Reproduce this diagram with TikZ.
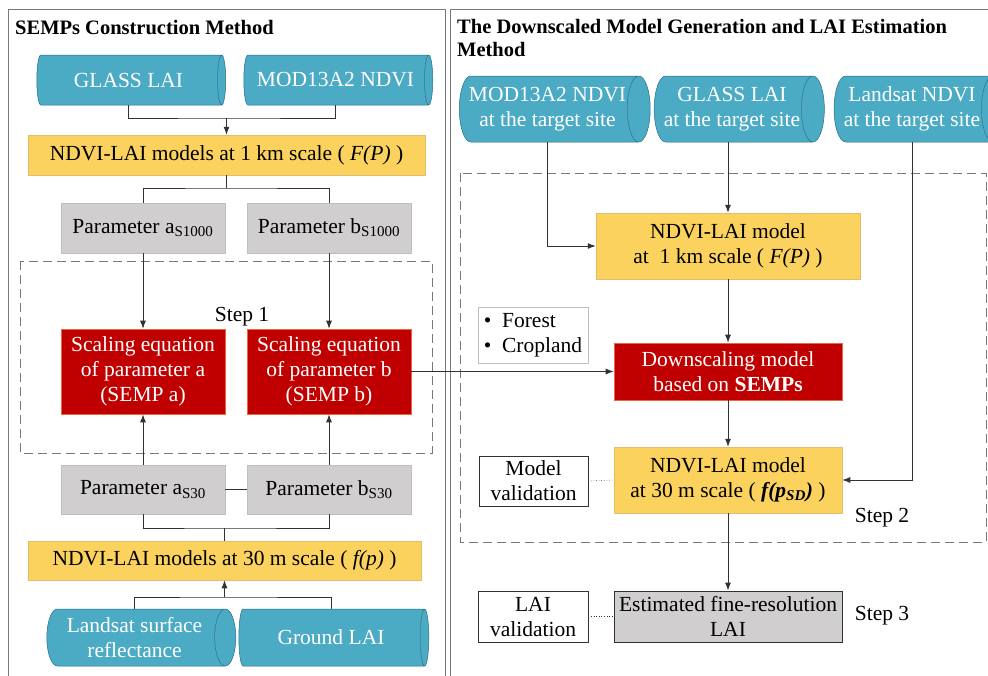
\documentclass[tikz,border=0pt]{standalone}
\usepackage{fontspec}
\setmainfont{Liberation Serif}
\usetikzlibrary{shapes.geometric,arrows.meta,calc}
\definecolor{tealf}{RGB}{75,170,196}
\definecolor{teald}{RGB}{40,110,135}
\definecolor{yelf}{RGB}{252,210,95}
\definecolor{yeld}{RGB}{225,190,110}
\definecolor{redf}{RGB}{192,0,0}
\definecolor{redd}{RGB}{235,100,70}
\definecolor{greyf}{RGB}{208,206,206}
\definecolor{greyd}{RGB}{190,190,190}
\definecolor{lnc}{RGB}{50,50,50}
\definecolor{panel}{RGB}{120,120,120}
\begin{document}
\begin{tikzpicture}[x=1pt,y=-1pt,
  font=\fontsize{21.5}{25}\selectfont,
  every node/.style={inner sep=1pt, align=center},
  cyl/.style={cylinder, shape aspect=0.5, cylinder uses custom fill,
    cylinder body fill=tealf, cylinder end fill=tealf, draw=teald, line width=0.5pt,
    text=white},
  yelbox/.style={rectangle, fill=yelf, draw=yeld, line width=0.5pt, minimum width=#1},
  greybox/.style={rectangle, fill=greyf, draw=greyd, line width=0.5pt, minimum width=#1},
  redbox/.style={rectangle, fill=redf, draw=redd, line width=0.6pt, text=white, minimum width=#1},
  whitebox/.style={rectangle, fill=white, draw=lnc, line width=0.8pt, minimum width=#1},
  ln/.style={draw=lnc, line width=0.9pt},
  arr/.style={ln, -{Latex[length=8pt,width=6pt]}},
  dashbox/.style={draw=panel, line width=0.9pt, dash pattern=on 9pt off 5pt},
  titlef/.style={font=\fontsize{20.5}{23}\selectfont\bfseries}
]
\useasboundingbox (0,0) rectangle (988,675);
% panels
\draw[draw=panel, line width=0.9pt] (8,680) -- (8,9) -- (445,9) -- (445,680);
\draw[draw=panel, line width=0.9pt] (450,680) -- (450,9) -- (1000,9);
% titles
\node[titlef, anchor=base west, inner sep=0pt] (t1) at (15,34) {SEMPs Construction Method};
\node[titlef, anchor=north west, inner sep=0pt, align=left] (t2) at (457,19) {The Downscaled Model Generation and LAI Estimation\\Method};

% ---------- left panel ----------
\node[cyl, minimum width=50pt, minimum height=189pt] (cGL) at (128.5,80) {GLASS LAI};
\node[cyl, minimum width=50pt, minimum height=189pt] (cMD) at (335.5,80) {MOD13A2 NDVI};
\node[yelbox=397pt, minimum height=40pt] (y1) at (226.5,155) {NDVI-LAI models at 1 km scale ( \textit{F(P)} )};
\node[greybox=164pt, minimum height=50pt] (pa1) at (143,228) {Parameter a\textsubscript{S1000}};
\node[greybox=164pt, minimum height=50pt] (pb1) at (329,228) {Parameter b\textsubscript{S1000}};
\draw[dashbox] (20,261) rectangle (432,453);
\node (s1) at (242,317) {Step 1};
\node[redbox=164pt, minimum height=85pt] (ra) at (143,371.5) {Scaling equation\\of parameter a\\(SEMP a)};
\node[redbox=164pt, minimum height=85pt] (rb) at (329,371.5) {Scaling equation\\of parameter b\\(SEMP b)};
\node[greybox=164pt, minimum height=49pt] (pa3) at (143,489.5) {Parameter a\textsubscript{S30}};
\node[greybox=164pt, minimum height=49pt] (pb3) at (329,489.5) {Parameter b\textsubscript{S30}};
\node[yelbox=393pt, minimum height=39pt] (y2) at (224.5,560.5) {NDVI-LAI models at 30 m scale ( \textit{f(p)} )};
\node[cyl, minimum width=57pt, minimum height=189pt] (cLS) at (134.5,637.5) {Landsat surface\\reflectance};
\node[cyl, minimum width=57pt, minimum height=190pt] (cGR) at (331,637.5) {Ground LAI};

\coordinate (j1) at (226.5,118);
\coordinate (j2) at (226.5,188);
\coordinate (j3) at (224.5,528);
\coordinate (j4) at (224.5,597);
\draw[ln] (cGL.south) |- (j1) -| (cMD.south);
\draw[arr] (j1) -- (y1.north);
\draw[ln] (y1.south) -- (j2);
\draw[ln] (pa1.north) |- (j2) -| (pb1.north);
\draw[arr] (pa1.south) -- (ra.north);
\draw[arr] (pb1.south) -- (rb.north);
\draw[arr] (pa3.north) -- (ra.south);
\draw[arr] (pb3.north) -- (rb.south);
\draw[ln] (pa3.east) -- (pb3.west);
\draw[ln] (pa3.south) |- (j3) -| (pb3.south);
\draw[ln] (j3) -- (y2.north);
\draw[ln] (cLS.north) |- (j4) -| (cGR.north);
\draw[arr] (j4) -- (y2.south);

% ---------- right panel ----------
\node[cyl, minimum width=66pt, minimum height=173pt] (cM2) at (547.5,109) {MOD13A2 NDVI\\at the target site};
\node[cyl, minimum width=66pt, minimum height=154pt] (cG2) at (732,109) {GLASS LAI\\at the target site};
\node[cyl, minimum width=66pt, minimum height=152pt] (cL2) at (912,109) {Landsat NDVI\\at the target site};
\draw[dashbox] (460,173) rectangle (986,542);
\node[yelbox=264pt, minimum height=66pt] (km1) at (728,246) {NDVI-LAI model\\at\ \ 1 km scale ( \textit{F(P)} )};
\node[rectangle, draw=greyd, fill=white, line width=0.8pt, minimum width=110pt, minimum height=56pt, align=left] (leg) at (533,335) {\textbullet\ \ Forest\\\textbullet\ \ Cropland};
\node[redbox=228pt, minimum height=57pt] (ds) at (728,371.5) {Downscaling model\\based on \textbf{SEMPs}};
\node[yelbox=228pt, minimum height=66pt] (m30) at (728,480) {NDVI-LAI model\\at 30 m scale ( \textbf{\textit{f(p\textsubscript{SD})}} )};
\node[whitebox=109pt, minimum height=50pt] (mv) at (533.5,481) {Model\\validation};
\node (s2) at (882,518) {Step 2};
\node[rectangle, fill=greyf, draw=lnc, line width=0.8pt, minimum width=228pt, minimum height=51pt] (est) at (728,616.5) {Estimated fine-resolution\\LAI};
\node[whitebox=110pt, minimum height=51pt] (lv) at (533,616.5) {LAI\\validation};
\node (s3) at (882,616) {Step 3};

\draw[arr] (cM2.south) |- (km1.west);
\draw[arr] (km1.north |- cG2.south) -- (km1.north);
\draw[arr] (km1.south) -- (ds.north);
\draw[arr] (ds.south) -- (m30.north);
\draw[arr] (m30.south) -- (est.north);
\draw[arr] (cL2.south) |- (m30.east);
\draw[arr] (rb.east) -- (ds.west);
\draw[draw=lnc, line width=0.6pt, dotted] (mv.east) -- (m30.west);
\draw[draw=lnc, line width=0.6pt, dotted] (lv.east) -- (est.west);
\end{tikzpicture}
\end{document}
